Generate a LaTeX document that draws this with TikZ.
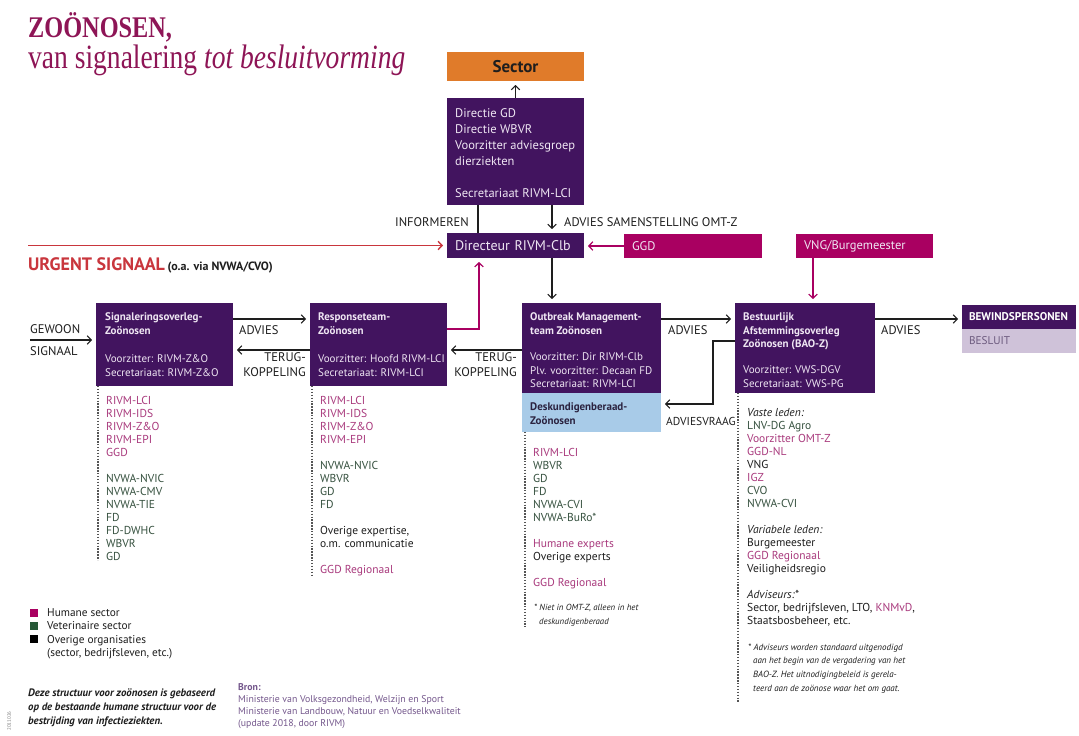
\documentclass[tikz,border=0pt]{standalone}
\usepackage{fontspec}
\setmainfont{PT Sans}
\newfontfamily\ttlfont[FakeStretch=0.81]{Liberation Serif}
\usetikzlibrary{arrows.meta}
\definecolor{vio}{HTML}{42145F}
\definecolor{mag}{HTML}{A90061}
\definecolor{titlec}{HTML}{8E1556}
\definecolor{orng}{HTML}{E07B2A}
\definecolor{ltblue}{HTML}{A8CBE8}
\definecolor{lav}{HTML}{CFC2D9}
\definecolor{urg}{HTML}{C9363D}
\definecolor{humc}{HTML}{A93A7D}
\definecolor{vetc}{HTML}{36513F}
\definecolor{ink}{HTML}{1E1E1E}
\definecolor{boxtxt}{HTML}{EFE6F3}
\definecolor{bron}{HTML}{74578C}
\definecolor{besl}{HTML}{6C5A7E}
\definecolor{dotc}{HTML}{555555}
\definecolor{deskt}{HTML}{2B2340}
\definecolor{vetsq}{HTML}{275937}
\newcommand{\humt}[1]{\textcolor{humc}{#1}}
\newcommand{\vett}[1]{\textcolor{vetc}{#1}}
\begin{document}
\begin{tikzpicture}[x=1pt,y=-1pt,
  pbox/.style={fill=vio,draw=none,inner sep=0pt,outer sep=0pt,anchor=north west},
  btext/.style={inner sep=0pt,anchor=north west,align=left,text=boxtxt,font=\fontsize{11}{13.5}\selectfont},
  lst/.style={inner sep=0pt,anchor=north west,align=left,text=ink,font=\fontsize{11.5}{13}\selectfont},
  lbl/.style={inner sep=0pt,text=ink,font=\fontsize{12.5}{15}\selectfont},
  conn/.style={draw=ink,line width=1.1pt,-{Straight Barb[length=4pt,width=8.5pt]},shorten >=4pt},
  plainln/.style={draw=ink,line width=1.1pt},
  magconn/.style={draw=mag,line width=1.2pt,-{Straight Barb[length=4pt,width=8.5pt]},shorten >=4pt},
  urgconn/.style={draw=urg,line width=1.4pt,-{Straight Barb[length=4pt,width=8.5pt]},shorten >=4pt},
  dotl/.style={draw=dotc,line width=1.4pt,dash pattern=on 1.4pt off 1.5pt}]
\fill[white] (0,0) rectangle (1079,736);
\useasboundingbox (0,0) rectangle (1079,736);

% title
\node[inner sep=0pt,anchor=base west,text=titlec,font=\ttlfont\bfseries\fontsize{30}{32}\selectfont] (t1) at (28,37) {ZOÖNOSEN,};
\node[inner sep=0pt,anchor=base west,text=titlec,font=\ttlfont\fontsize{34}{36}\selectfont] (t2) at (28,68) {van signalering \textit{tot besluitvorming}};

% top boxes
\node[pbox,fill=orng,minimum width=137pt,minimum height=29pt,text=ink,font=\bfseries\fontsize{17}{19}\selectfont] (sector) at (447,52) {Sector};
\node[pbox,minimum width=137pt,minimum height=107pt] (dir) at (447,98) {};
\node[btext,font=\fontsize{12.5}{16}\selectfont] (dirtxt) at (455,108.5) {Directie GD\\Directie WBVR\\Voorzitter adviesgroep\\dierziekten\\[16pt]Secretariaat RIVM-LCI};
\node[pbox,minimum width=137pt,minimum height=25pt,inner xsep=8pt,text width=121pt,align=left,text=boxtxt,font=\fontsize{14}{16}\selectfont] (dirc) at (447,233) {Directeur RIVM-Clb};
\node[pbox,fill=mag,minimum width=138pt,minimum height=24pt,inner xsep=8pt,text width=122pt,align=left,text=boxtxt,font=\fontsize{12.5}{15}\selectfont] (ggd) at (624,234) {GGD};
\node[pbox,fill=mag,minimum width=137pt,minimum height=24pt,inner xsep=8pt,text width=121pt,align=left,text=boxtxt,font=\fontsize{12.5}{15}\selectfont] (vng) at (796,234) {VNG/Burgemeester};

% main row boxes
\node[pbox,minimum width=137pt,minimum height=83pt] (sig) at (96,303) {};
\node[btext] (sigtxt) at (105,312.9) {\textbf{Signaleringsoverleg-}\\\textbf{Zoönosen}\\[15pt]Voorzitter: RIVM-Z\&O\\Secretariaat: RIVM-Z\&O};
\node[pbox,minimum width=137pt,minimum height=83pt] (resp) at (310,303) {};
\node[btext] (resptxt) at (318,312.9) {\textbf{Responseteam-}\\\textbf{Zoönosen}\\[15pt]Voorzitter: Hoofd RIVM-LCI\\Secretariaat: RIVM-LCI};
\node[pbox,minimum width=139pt,minimum height=90pt] (omt) at (522,303) {};
\node[btext] (omttxt) at (530,312.9) {\textbf{Outbreak Management-}\\\textbf{team Zoönosen}\\[13pt]Voorzitter: Dir RIVM-Clb\\Plv. voorzitter: Decaan FD\\Secretariaat: RIVM-LCI};
\node[pbox,fill=ltblue,minimum width=139pt,minimum height=39pt] (desk) at (522,393) {};
\node[btext,text=deskt] (desktxt) at (530,402.9) {\textbf{Deskundigenberaad-}\\\textbf{Zoönosen}};
\node[pbox,minimum width=140pt,minimum height=90pt] (bao) at (735,303) {};
\node[btext] (baotxt) at (743,312.9) {\textbf{Bestuurlijk}\\\textbf{Afstemmingsoverleg}\\\textbf{Zoönosen (BAO-Z)}\\[12.5pt]Voorzitter: VWS-DGV\\Secretariaat: VWS-PG};
\node[pbox,minimum width=114pt,minimum height=24pt,inner xsep=7pt,text width=100pt,align=left,text=white,font=\bfseries\fontsize{11.2}{13}\selectfont] (bew) at (962,305) {BEWINDSPERSONEN};
\node[pbox,fill=lav,minimum width=114pt,minimum height=24pt,inner xsep=7pt,text width=100pt,align=left,text=besl,font=\fontsize{11.2}{13}\selectfont] (besl) at (962,329) {BESLUIT};

% connectors
\draw[conn] (dir.north) -- (sector.south);
\draw[plainln] ([xshift=31pt]dir.south west) -- ([xshift=31pt]dirc.north west);
\draw[conn] ([xshift=105pt]dir.south west) -- ([xshift=105pt]dirc.north west);
\draw[conn] ([xshift=105pt]dirc.south west) -- ([xshift=30pt]omt.north west);
\coordinate (usig) at (28,245.5);
\draw[urgconn] (usig) -- (dirc.west);
\draw[magconn] (ggd.west) -- (ggd.west -| dirc.east);
\draw[magconn] ([xshift=17pt]vng.south west) -- ([xshift=17pt]vng.south west |- bao.north);
\draw[magconn] ([yshift=-26pt]resp.north east) -| ([xshift=32pt]dirc.south west);
\coordinate (gw) at (30,340);
\draw[conn] (gw) -- (gw -| sig.west);
\draw[conn] ([yshift=-16pt]sig.north east) -- ([yshift=-16pt]resp.north west);
\draw[conn] ([yshift=-47pt]resp.north west) -- ([yshift=-47pt]sig.north east);
\draw[conn] ([yshift=-47pt]omt.north west) -- ([yshift=-47pt]resp.north east);
\draw[conn] ([yshift=-16pt]omt.north east) -- ([yshift=-16pt]bao.north west);
\draw[conn] ([yshift=-16pt]bao.north east) -- ([yshift=-14pt]bew.north west);
\draw[conn] ([yshift=-38pt]bao.north west) -- ++(-22,0) |- ([yshift=-11pt]desk.north east);

% dotted lines
\draw[dotl] ([xshift=2pt]sig.south west) -- ++(0,174);
\draw[dotl] ([xshift=2pt]resp.south west) -- ++(0,189);
\draw[dotl] ([xshift=3pt]desk.south west) -- ++(0,195);
\draw[dotl] ([xshift=3pt]bao.south west) -- ++(0,309);

% labels
\node[lbl,anchor=east] (linf) at (469,222) {INFORMEREN};
\node[lbl,anchor=west] (lsam) at (564,222) {ADVIES SAMENSTELLING OMT-Z};
\node[inner sep=0pt,anchor=base west] (lurg) at (28,270) {\textcolor{urg}{\bfseries\fontsize{18}{20}\selectfont URGENT SIGNAAL} {\bfseries\fontsize{12}{13}\selectfont\color{ink}(o.a. via NVWA/CVO)}};
\node[lbl,anchor=west] (lgw1) at (30,329) {GEWOON};
\node[lbl,anchor=west] (lgw2) at (30,351) {SIGNAAL};
\node[lbl,anchor=west] (lad1) at (239,330) {ADVIES};
\node[lbl,anchor=north east,align=right] (ltk1) at (306,352.5) {TERUG-\\KOPPELING};
\node[lbl,anchor=north east,align=right] (ltk2) at (517,352.5) {TERUG-\\KOPPELING};
\node[lbl,anchor=west] (lad2) at (668,330) {ADVIES};
\node[lbl,anchor=west] (lad3) at (881,330) {ADVIES};
\node[lbl,anchor=west,font=\fontsize{11.5}{14}\selectfont] (lavr) at (666,421) {ADVIESVRAAG};

% lists
\node[lst] (siglist) at (106,395.8) {\humt{RIVM-LCI}\\\humt{RIVM-IDS}\\\humt{RIVM-Z\&O}\\\humt{RIVM-EPI}\\\humt{GGD}\\[13pt]\vett{NVWA-NVIC}\\\vett{NVWA-CMV}\\\vett{NVWA-TIE}\\\vett{FD}\\\vett{FD-DWHC}\\\vett{WBVR}\\\vett{GD}};
\node[lst] (resplist) at (320,395.8) {\humt{RIVM-LCI}\\\humt{RIVM-IDS}\\\humt{RIVM-Z\&O}\\\humt{RIVM-EPI}\\[13pt]\vett{NVWA-NVIC}\\\vett{WBVR}\\\vett{GD}\\\vett{FD}\\[13pt]Overige expertise,\\o.m. communicatie\\[13pt]\humt{GGD Regionaal}};
\node[lst] (omtlist) at (533,447.8) {\humt{RIVM-LCI}\\\vett{WBVR}\\\vett{GD}\\\vett{FD}\\\vett{NVWA-CVI}\\\vett{NVWA-BuRo*}\\[13pt]\humt{Humane experts}\\Overige experts\\[13pt]\humt{GGD Regionaal}};
\node[lst,font=\itshape\fontsize{8.8}{14}\selectfont,text=ink] (omtnote) at (534,604.5) {* Niet in OMT-Z, alleen in het\\\hspace*{5pt}deskundigenberaad};
\node[lst] (baolist) at (747,407.8) {\textit{Vaste leden:}\\\vett{LNV-DG Agro}\\\humt{Voorzitter OMT-Z}\\\humt{GGD-NL}\\VNG\\\humt{IGZ}\\\vett{CVO}\\\vett{NVWA-CVI}\\[13pt]\textit{Variabele leden:}\\Burgemeester\\\humt{GGD Regionaal}\\Veiligheidsregio\\[13pt]\textit{Adviseurs:*}\\Sector, bedrijfsleven, LTO, \humt{KNMvD},\\Staatsbosbeheer, etc.};
\node[lst,font=\itshape\fontsize{9}{13.7}\selectfont] (baonote) at (748,643.5) {* Adviseurs worden standaard uitgenodigd\\\hspace*{5pt}aan het begin van de vergadering van het\\\hspace*{5pt}BAO-Z. Het uitnodigingbeleid is gerela-\\\hspace*{5pt}teerd aan de zoönose waar het om gaat.};

% legend
\node[fill=mag,minimum size=8pt,inner sep=0pt] (lg1) at (34,613) {};
\node[fill=vetsq,minimum size=8pt,inner sep=0pt] (lg2) at (34,626) {};
\node[fill=black,minimum size=8pt,inner sep=0pt] (lg3) at (34,639) {};
\node[lst,font=\fontsize{11.3}{13.3}\selectfont] (lgtxt) at (47,608.5) {Humane sector\\Veterinaire sector\\Overige organisaties\\(sector, bedrijfsleven, etc.)};

% bottom texts
\node[lst,font=\bfseries\itshape\fontsize{10.8}{14}\selectfont] (deze) at (28,688.2) {Deze structuur voor zoönosen is gebaseerd\\op de bestaande humane structuur voor de\\bestrijding van infectieziekten.};
\node[lst,font=\fontsize{9.8}{12}\selectfont,text=bron] (bronn) at (238,683.3) {\textbf{Bron:}\\Ministerie van Volksgezondheid, Welzijn en Sport\\Ministerie van Landbouw, Natuur en Voedselkwaliteit\\(update 2018, door RIVM)};
\node[inner sep=0pt,rotate=90,text=gray,font=\fontsize{5}{6}\selectfont] (code) at (9,721) {2011026};
\end{tikzpicture}
\end{document}
